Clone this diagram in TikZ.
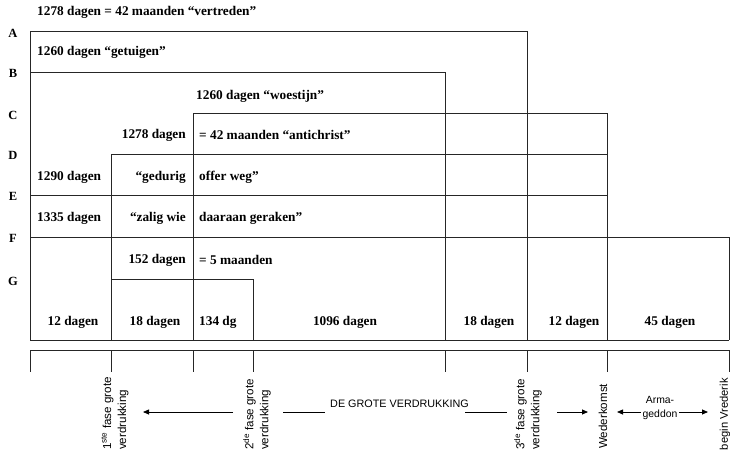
\documentclass[tikz,border=0pt]{standalone}
\usepackage{fontspec}
\setmainfont{Liberation Serif}
\setsansfont{Liberation Sans}
\usetikzlibrary{arrows.meta}
\begin{document}
\begin{tikzpicture}[x=1pt,y=-1pt,
  ln/.style={line width=0.8pt,black!85},
  st/.style={font=\fontsize{13.3}{15}\selectfont\bfseries,inner sep=0pt},
  lt/.style={font=\fontsize{12.5}{15}\selectfont\bfseries,inner sep=0pt},
  sl/.style={font=\sffamily\fontsize{11.6}{15}\selectfont,inner sep=0pt,align=left,rotate=90},
  hs/.style={font=\sffamily\fontsize{10.8}{14}\selectfont,inner sep=0pt,align=center},
  arr/.style={line width=0.8pt,-{Triangle[length=6pt,width=5pt]}},
  plain/.style={line width=0.7pt}]
\useasboundingbox (0,0) rectangle (730,457);
% boxes
\draw[ln] (30,340) -- (30,31) -- (527,31) -- (527,340);
\draw[ln] (30,72) -- (445,72) -- (445,340);
\draw[ln] (193,340) -- (193,113) -- (607,113) -- (607,340);
\draw[ln] (111,340) -- (111,154) -- (607,154);
\draw[ln] (30,195) -- (607,195);
\draw[ln] (30,237) -- (729,237) -- (729,340);
\draw[ln] (111,279) -- (253,279) -- (253,340);
\draw[ln] (30,340) -- (729,340);
% scale line
\draw[ln] (30,350) -- (729,350);
\foreach \x in {30,111,193,253,445,527,607,729}
  \draw[ln] (\x,350) -- (\x,372);
% letters
\node[lt] (la) at (13,33) {A};
\node[lt] (lb) at (13,73) {B};
\node[lt] (lc) at (13,115) {C};
\node[lt] (ld) at (13,155) {D};
\node[lt] (le) at (13,196) {E};
\node[lt] (lf) at (13,238) {F};
\node[lt] (lg) at (13,281) {G};
% texts
\node[st,anchor=west] (t1) at (37,12) {1278 dagen = 42 maanden “vertreden”};
\node[st,anchor=west] (t2) at (37,52) {1260 dagen “getuigen”};
\node[st,anchor=west] (t3) at (196,96) {1260 dagen “woestijn”};
\node[st,anchor=east] (t4a) at (186,135) {1278 dagen};
\node[st,anchor=west] (t4b) at (199,135) {= 42 maanden “antichrist”};
\node[st,anchor=west] (t5a) at (37,177) {1290 dagen};
\node[st,anchor=east] (t5b) at (186,177) {“gedurig};
\node[st,anchor=west] (t5c) at (199,177) {offer weg”};
\node[st,anchor=west] (t6a) at (37,218) {1335 dagen};
\node[st,anchor=east] (t6b) at (186,218) {“zalig wie};
\node[st,anchor=west] (t6c) at (199,218) {daaraan geraken”};
\node[st,anchor=east] (t7a) at (186,260) {152 dagen};
\node[st,anchor=west] (t7b) at (199,260) {= 5 maanden};
% bottom row
\node[st] (b1) at (73,322) {12 dagen};
\node[st] (b2) at (155,322) {18 dagen};
\node[st,anchor=west] (b3) at (199,322) {134 dg};
\node[st] (b4) at (345,322) {1096 dagen};
\node[st] (b5) at (489,322) {18 dagen};
\node[st] (b6) at (574,322) {12 dagen};
\node[st] (b7) at (670,322) {45 dagen};
% rotated labels
\node[sl,anchor=west] (f1) at (115,450) {1\textsuperscript{ste} fase grote\\verdrukking};
\node[sl,anchor=west] (f2) at (257,450) {2\textsuperscript{de} fase grote\\verdrukking};
\node[sl,anchor=west] (f3) at (528,450) {3\textsuperscript{de} fase grote\\verdrukking};
\node[sl,anchor=west] (wk) at (603,449) {Wederkomst};
\node[sl,anchor=east,font=\sffamily\fontsize{11.2}{15}\selectfont] (vr) at (725,378) {begin Vrederik};
\node[hs,anchor=west] (dg) at (330,404) {DE GROTE VERDRUKKING};
\node[hs,font=\sffamily\fontsize{10.4}{14}\selectfont] (ar) at (660,408) {Arma-\\geddon};
% arrows
\coordinate (a1s) at (233,412); \coordinate (a1e) at (143,412);
\coordinate (l1s) at (283,412); \coordinate (l1e) at (325,412);
\coordinate (l2s) at (465,412); \coordinate (l2e) at (507,412);
\coordinate (a2s) at (557,412); \coordinate (a2e) at (588,412);
\coordinate (a3s) at (641,412); \coordinate (a3e) at (617,412);
\coordinate (a4s) at (679,412); \coordinate (a4e) at (708,412);
\draw[arr] (a1s) -- (a1e);
\draw[plain] (l1s) -- (l1e);
\draw[plain] (l2s) -- (l2e);
\draw[arr] (a2s) -- (a2e);
\draw[arr] (a3s) -- (a3e);
\draw[arr] (a4s) -- (a4e);
\end{tikzpicture}
\end{document}
